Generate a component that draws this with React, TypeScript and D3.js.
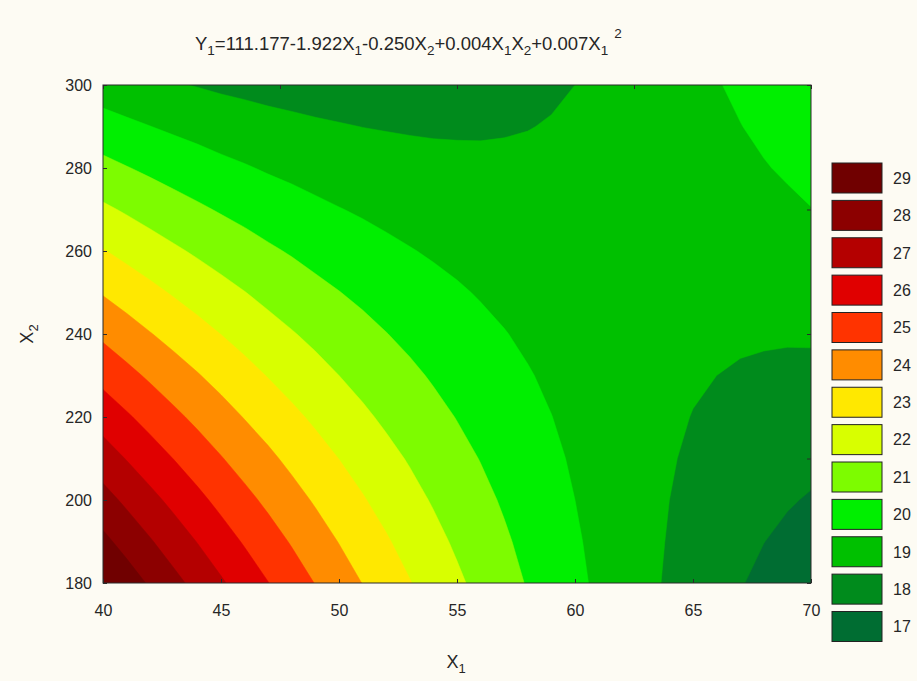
import React, { useEffect, useRef } from "react";
import * as d3 from "d3";

// grid of fitted response values
const X1_VALUES = [40, 41, 42, 43, 44, 45, 46, 47, 48, 49, 50, 51, 52, 53, 54, 55, 56, 57, 58, 59, 60, 61, 62, 63, 64, 65, 66, 67, 68, 69, 70];
const X2_VALUES = [180, 190, 200, 210, 220, 230, 240, 250, 260, 270, 280, 290, 300];

// one row per X2 value (180 first), one column per X1 value
const Y_GRID = [
  [29.63, 29.00, 28.38, 27.78, 27.20, 26.62, 26.06, 25.52, 24.99, 24.47, 23.97, 23.48, 23.00, 22.54, 22.09, 21.66, 21.24, 20.83, 20.44, 20.07, 19.70, 19.35, 19.02, 18.70, 18.39, 18.10, 17.82, 17.55, 17.30, 17.06, 16.84],
  [28.74, 28.15, 27.58, 27.01, 26.47, 25.93, 25.41, 24.91, 24.42, 23.94, 23.47, 23.02, 22.59, 22.16, 21.76, 21.36, 20.98, 20.62, 20.26, 19.93, 19.60, 19.29, 19.00, 18.71, 18.45, 18.19, 17.95, 17.73, 17.51, 17.32, 17.13],
  [27.86, 27.31, 26.77, 26.25, 25.74, 25.24, 24.76, 24.30, 23.84, 23.40, 22.98, 22.57, 22.17, 21.79, 21.42, 21.07, 20.73, 20.40, 20.09, 19.79, 19.50, 19.23, 18.97, 18.73, 18.50, 18.29, 18.09, 17.90, 17.73, 17.57, 17.43],
  [26.97, 26.46, 25.96, 25.48, 25.01, 24.55, 24.11, 23.69, 23.27, 22.87, 22.49, 22.12, 21.76, 21.42, 21.09, 20.77, 20.47, 20.18, 19.91, 19.65, 19.40, 19.17, 18.95, 18.75, 18.56, 18.38, 18.22, 18.08, 17.94, 17.82, 17.72],
  [26.09, 25.62, 25.16, 24.71, 24.28, 23.87, 23.46, 23.08, 22.70, 22.34, 22.00, 21.66, 21.34, 21.04, 20.75, 20.47, 20.21, 19.96, 19.73, 19.51, 19.30, 19.11, 18.93, 18.77, 18.62, 18.48, 18.36, 18.25, 18.16, 18.08, 18.01],
  [25.20, 24.77, 24.35, 23.94, 23.56, 23.18, 22.81, 22.46, 22.13, 21.81, 21.50, 21.21, 20.93, 20.67, 20.41, 20.18, 19.95, 19.75, 19.55, 19.37, 19.20, 19.05, 18.91, 18.79, 18.68, 18.58, 18.50, 18.43, 18.37, 18.33, 18.30],
  [24.32, 23.92, 23.54, 23.18, 22.83, 22.49, 22.17, 21.85, 21.56, 21.28, 21.01, 20.76, 20.52, 20.29, 20.08, 19.88, 19.70, 19.53, 19.37, 19.23, 19.10, 18.99, 18.89, 18.80, 18.73, 18.67, 18.63, 18.60, 18.59, 18.58, 18.60],
  [23.43, 23.08, 22.74, 22.41, 22.10, 21.80, 21.52, 21.24, 20.99, 20.74, 20.52, 20.31, 20.10, 19.92, 19.74, 19.59, 19.44, 19.31, 19.19, 19.09, 19.00, 18.93, 18.87, 18.82, 18.79, 18.77, 18.77, 18.78, 18.80, 18.84, 18.89],
  [22.55, 22.23, 21.93, 21.64, 21.37, 21.11, 20.87, 20.63, 20.42, 20.21, 20.03, 19.85, 19.69, 19.54, 19.41, 19.29, 19.18, 19.09, 19.02, 18.95, 18.90, 18.87, 18.85, 18.84, 18.85, 18.87, 18.90, 18.95, 19.02, 19.09, 19.18],
  [21.66, 21.39, 21.12, 20.87, 20.64, 20.42, 20.22, 20.02, 19.85, 19.68, 19.53, 19.40, 19.27, 19.17, 19.07, 18.99, 18.93, 18.88, 18.84, 18.81, 18.80, 18.81, 18.82, 18.86, 18.91, 18.96, 19.04, 19.13, 19.23, 19.34, 19.48],
  [20.78, 20.54, 20.32, 20.11, 19.92, 19.73, 19.57, 19.41, 19.28, 19.15, 19.04, 18.95, 18.86, 18.79, 18.74, 18.70, 18.67, 18.66, 18.66, 18.68, 18.70, 18.75, 18.80, 18.88, 18.96, 19.06, 19.18, 19.30, 19.45, 19.60, 19.77],
  [19.89, 19.69, 19.51, 19.34, 19.19, 19.04, 18.92, 18.80, 18.71, 18.62, 18.55, 18.49, 18.45, 18.42, 18.40, 18.40, 18.41, 18.44, 18.48, 18.54, 18.60, 18.69, 18.78, 18.89, 19.02, 19.16, 19.31, 19.48, 19.66, 19.85, 20.06],
  [19.01, 18.85, 18.71, 18.57, 18.46, 18.35, 18.27, 18.19, 18.13, 18.08, 18.06, 18.04, 18.03, 18.05, 18.07, 18.11, 18.16, 18.22, 18.30, 18.40, 18.50, 18.63, 18.76, 18.91, 19.08, 19.25, 19.45, 19.65, 19.87, 20.10, 20.36],
];

const LEVELS = [17, 18, 19, 20, 21, 22, 23, 24, 25, 26, 27, 28, 29];
const LEVEL_COLORS = ["#006d32", "#008b1c", "#00c000", "#00ef00", "#7dfc00", "#d8ff00", "#ffe800", "#ff8c00", "#ff3300", "#e00000", "#b40000", "#8c0000", "#700000"];

const X1_TICKS = [40, 45, 50, 55, 60, 65, 70];
const X2_TICKS = [180, 200, 220, 240, 260, 280, 300];
const TOP_TICKS = [40, 47.5, 55, 62.5, 70];
const RIGHT_TICKS = [180, 210, 240, 270, 300];

// title pieces: 0 normal, 1 subscript, 2 superscript
const TITLE_PARTS: [string, number][] = [
  ["Y", 0], ["1", 1], ["=111.177-1.922X", 0], ["1", 1], ["-0.250X", 0], ["2", 1],
  ["+0.004X", 0], ["1", 1], ["X", 0], ["2", 1], ["+0.007X", 0], ["1", 1], ["2", 2],
];

const BG = "#fdfbf3";
const FONT = "'Liberation Sans', Arial, sans-serif";

const App = () => {
  const ref = useRef<SVGSVGElement>(null);

  useEffect(() => {
    document.body.style.margin = "0";
    document.body.style.background = BG;

    const svg = d3.select(ref.current);
    svg.selectAll("*").remove();

    const width = 917;
    const height = 681;
    const margin = { top: 85, right: 106, bottom: 98, left: 103 };

    svg.append("rect").attr("width", width).attr("height", height).attr("fill", BG);

    const x = d3.scaleLinear()
      .domain([X1_VALUES[0], X1_VALUES[X1_VALUES.length - 1]])
      .range([margin.left, width - margin.right]);

    const y = d3.scaleLinear()
      .domain([X2_VALUES[0], X2_VALUES[X2_VALUES.length - 1]])
      .range([height - margin.bottom, margin.top]);

    const n = X1_VALUES.length;
    const m = X2_VALUES.length;

    // d3.contours puts sample i at grid coordinate i + 0.5
    const gx = d3.scaleLinear().domain([0.5, n - 0.5]).range([x(X1_VALUES[0]), x(X1_VALUES[n - 1])]);
    const gy = d3.scaleLinear().domain([0.5, m - 0.5]).range([y(X2_VALUES[0]), y(X2_VALUES[m - 1])]);

    const path = d3.geoPath(d3.geoTransform({
      point(px: number, py: number) {
        (this as any).stream.point(gx(px), gy(py));
      },
    }));

    const contours = d3.contours()
      .size([n, m])
      .thresholds(LEVELS.map(l => l - 0.5))(Y_GRID.flat());

    svg.append("clipPath").attr("id", "plot-clip")
      .append("rect")
      .attr("x", margin.left)
      .attr("y", margin.top)
      .attr("width", width - margin.left - margin.right)
      .attr("height", height - margin.top - margin.bottom);

    svg.append("g")
      .attr("clip-path", "url(#plot-clip)")
      .selectAll("path")
      .data(contours)
      .join("path")
      .attr("d", d => path(d as any))
      .attr("fill", (d, i) => LEVEL_COLORS[i])
      .attr("stroke", (d, i) => LEVEL_COLORS[i])
      .attr("stroke-width", 0.5);

    // frame
    svg.append("rect")
      .attr("x", margin.left)
      .attr("y", margin.top)
      .attr("width", width - margin.left - margin.right)
      .attr("height", height - margin.top - margin.bottom)
      .attr("fill", "none")
      .attr("stroke", "#2b2b2b")
      .attr("stroke-width", 1);

    const styleAxis = (g: any) => {
      g.select(".domain").remove();
      g.selectAll(".tick line").attr("stroke", "#2b2b2b");
      g.selectAll(".tick text").attr("font-family", FONT).attr("font-size", 16).attr("fill", "#262626");
    };

    svg.append("g")
      .attr("transform", `translate(0,${height - margin.bottom})`)
      .call(d3.axisBottom(x).tickValues(X1_TICKS).tickSizeInner(-4).tickSizeOuter(0).tickPadding(22))
      .call(styleAxis);

    svg.append("g")
      .attr("transform", `translate(${margin.left},0)`)
      .call(d3.axisLeft(y).tickValues(X2_TICKS).tickSizeInner(-4).tickSizeOuter(0).tickPadding(11))
      .call(styleAxis);

    svg.append("g")
      .attr("transform", `translate(0,${margin.top})`)
      .call(d3.axisTop(x).tickValues(TOP_TICKS).tickSizeInner(-4).tickSizeOuter(0).tickFormat(() => ""))
      .call(styleAxis);

    svg.append("g")
      .attr("transform", `translate(${width - margin.right},0)`)
      .call(d3.axisRight(y).tickValues(RIGHT_TICKS).tickSizeInner(-4).tickSizeOuter(0).tickFormat(() => ""))
      .call(styleAxis);

    // title
    const title = svg.append("text")
      .attr("x", 195)
      .attr("y", 50)
      .attr("font-family", FONT)
      .attr("font-size", 18.5)
      .attr("fill", "#262626");
    const shifts = [0, 5, -12];
    let cur = 0;
    TITLE_PARTS.forEach(([txt, kind]) => {
      title.append("tspan")
        .attr("dy", shifts[kind] - cur)
        .attr("dx", kind === 2 ? 6 : 0)
        .attr("font-size", kind === 0 ? 18.5 : 13.5)
        .text(txt);
      cur = shifts[kind];
    });

    // axis titles
    const xt = svg.append("text")
      .attr("x", 456)
      .attr("y", 668)
      .attr("text-anchor", "middle")
      .attr("font-family", FONT)
      .attr("font-size", 18)
      .attr("fill", "#262626");
    xt.append("tspan").text("X");
    xt.append("tspan").attr("dy", 5).attr("font-size", 13).text("1");

    const yt = svg.append("text")
      .attr("transform", "translate(33,334) rotate(-90)")
      .attr("text-anchor", "middle")
      .attr("font-family", FONT)
      .attr("font-size", 18)
      .attr("fill", "#262626");
    yt.append("tspan").text("X");
    yt.append("tspan").attr("dy", 5).attr("font-size", 13).text("2");

    // legend
    const ly = d3.scaleLinear()
      .domain([LEVELS[LEVELS.length - 1], LEVELS[0]])
      .range([163, 611.5]);

    const legend = svg.append("g");
    const items = legend.selectAll("g")
      .data(LEVELS)
      .join("g")
      .attr("transform", d => `translate(832,${ly(d)})`);

    items.append("rect")
      .attr("width", 50)
      .attr("height", 30)
      .attr("fill", (d, i) => LEVEL_COLORS[i])
      .attr("stroke", "#222")
      .attr("stroke-width", 1);

    items.append("text")
      .attr("x", 61)
      .attr("y", 15)
      .attr("dy", "0.36em")
      .attr("font-family", FONT)
      .attr("font-size", 16)
      .attr("fill", "#262626")
      .text(d => d);
  }, []);

  return <svg ref={ref} width={917} height={681} style={{ display: "block" }}></svg>;
};

export default App;
